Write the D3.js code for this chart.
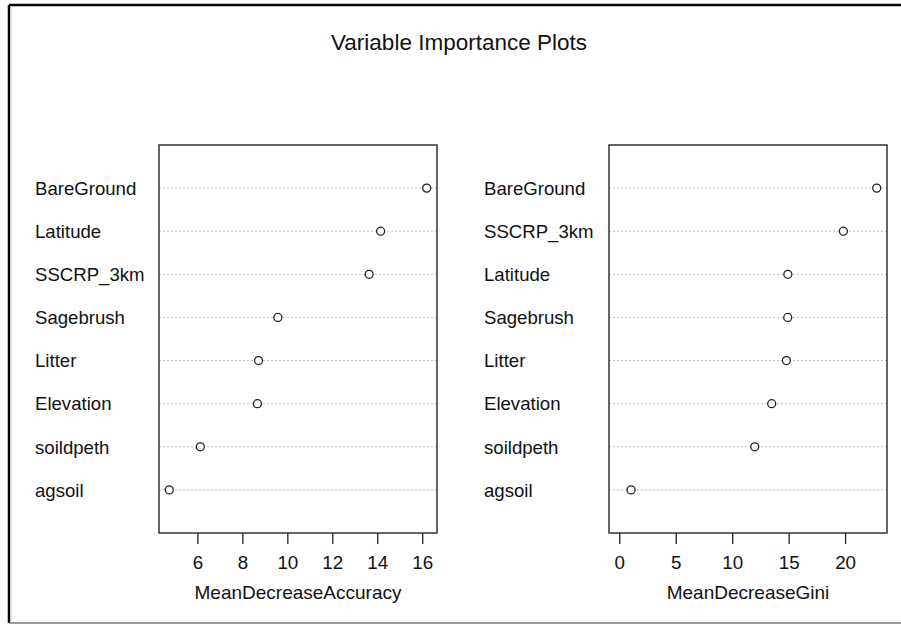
<!DOCTYPE html>
<html>
<head>
<meta charset="utf-8">
<script src="https://cdn.jsdelivr.net/npm/d3@7/dist/d3.min.js"></script>
<style>
  html, body { margin: 0; padding: 0; background: #fff; }
  svg { display: block; }
  text { font-family: "Liberation Sans", Arial, sans-serif; fill: #111; }
</style>
</head>
<body>
<svg id="chart" width="901" height="625"></svg>
<script>
// ---- data (top to bottom, as shown) ----
const accVars = ["BareGround", "Latitude", "SSCRP_3km", "Sagebrush", "Litter", "Elevation", "soildpeth", "agsoil"];
const accValues = [16.2, 14.15, 13.64, 9.58, 8.72, 8.67, 6.13, 4.75];
const giniVars = ["BareGround", "SSCRP_3km", "Latitude", "Sagebrush", "Litter", "Elevation", "soildpeth", "agsoil"];
const giniValues = [22.8, 19.85, 14.93, 14.92, 14.8, 13.5, 12.0, 1.04];
const accTicks = [6, 8, 10, 12, 14, 16];
const giniTicks = [0, 5, 10, 15, 20];
const titleText = "Variable Importance Plots";
const accLabel = "MeanDecreaseAccuracy";
const giniLabel = "MeanDecreaseGini";

const svg = d3.select("#chart");

// outer frame (screenshot border)
svg.append("line").attr("x1", 9).attr("y1", 5).attr("x2", 901).attr("y2", 5)
  .attr("stroke", "#000").attr("stroke-width", 2.5);
svg.append("line").attr("x1", 9).attr("y1", 5).attr("x2", 9).attr("y2", 623)
  .attr("stroke", "#000").attr("stroke-width", 2.5);
svg.append("line").attr("x1", 11).attr("y1", 7).attr("x2", 11).attr("y2", 622)
  .attr("stroke", "#ccc").attr("stroke-width", 1);
svg.append("line").attr("x1", 9).attr("y1", 623).attr("x2", 901).attr("y2", 623)
  .attr("stroke", "#777").attr("stroke-width", 1.5);

// title
svg.append("text").attr("x", 459).attr("y", 49.5).attr("text-anchor", "middle")
  .style("font-size", "22.5px").text(titleText);

const plotTop = 145, plotBottom = 533;

function panel(vars, values, ticks, xlabel, left, right, labelX, zeroMin) {
  const n = values.length;
  let lo = zeroMin ? 0 : d3.min(values);
  let hi = d3.max(values);
  const ext = (hi - lo) * 0.04;
  const x = d3.scaleLinear().domain([lo - ext, hi + ext]).range([left, right]);
  const y = d3.scaleLinear().domain([0, n + 1]).range([plotBottom, plotTop]);
  const g = svg.append("g");
  const rows = values.map((v, i) => ({ name: vars[i], value: v, pos: n - i }));

  // dotted guide lines
  g.selectAll("line.guide").data(rows).enter().append("line")
    .attr("x1", left).attr("x2", right)
    .attr("y1", d => y(d.pos)).attr("y2", d => y(d.pos))
    .attr("stroke", "#bdbdbd").attr("stroke-width", 1)
    .attr("stroke-dasharray", "2,2");

  // row labels
  g.selectAll("text.lab").data(rows).enter().append("text")
    .attr("x", labelX).attr("y", d => y(d.pos) + 6.8)
    .style("font-size", "18.6px").text(d => d.name);

  // points
  g.selectAll("circle").data(rows).enter().append("circle")
    .attr("cx", d => x(d.value)).attr("cy", d => y(d.pos)).attr("r", 4)
    .attr("fill", "#fff").attr("stroke", "#222").attr("stroke-width", 1.3);

  // box
  g.append("rect").attr("x", left).attr("y", plotTop)
    .attr("width", right - left).attr("height", plotBottom - plotTop)
    .attr("fill", "none").attr("stroke", "#333").attr("stroke-width", 1.5);

  // axis
  const axis = d3.axisBottom(x).tickValues(ticks).tickSize(11).tickPadding(12)
    .tickFormat(d3.format("d"));
  const ag = g.append("g").attr("transform", `translate(0,${plotBottom})`).call(axis);
  ag.select(".domain").remove();
  ag.selectAll(".tick line").attr("stroke", "#222").attr("stroke-width", 1.3);
  ag.selectAll(".tick text").style("font-size", "18.8px")
    .style("font-family", '"Liberation Sans", Arial, sans-serif').attr("fill", "#111");

  g.append("text").attr("x", (left + right) / 2).attr("y", 598.5)
    .attr("text-anchor", "middle").style("font-size", "19px").text(xlabel);
}

panel(accVars, accValues, accTicks, accLabel, 159, 437, 35, false);
panel(giniVars, giniValues, giniTicks, giniLabel, 609, 887, 484, true);
</script>
</body>
</html>
